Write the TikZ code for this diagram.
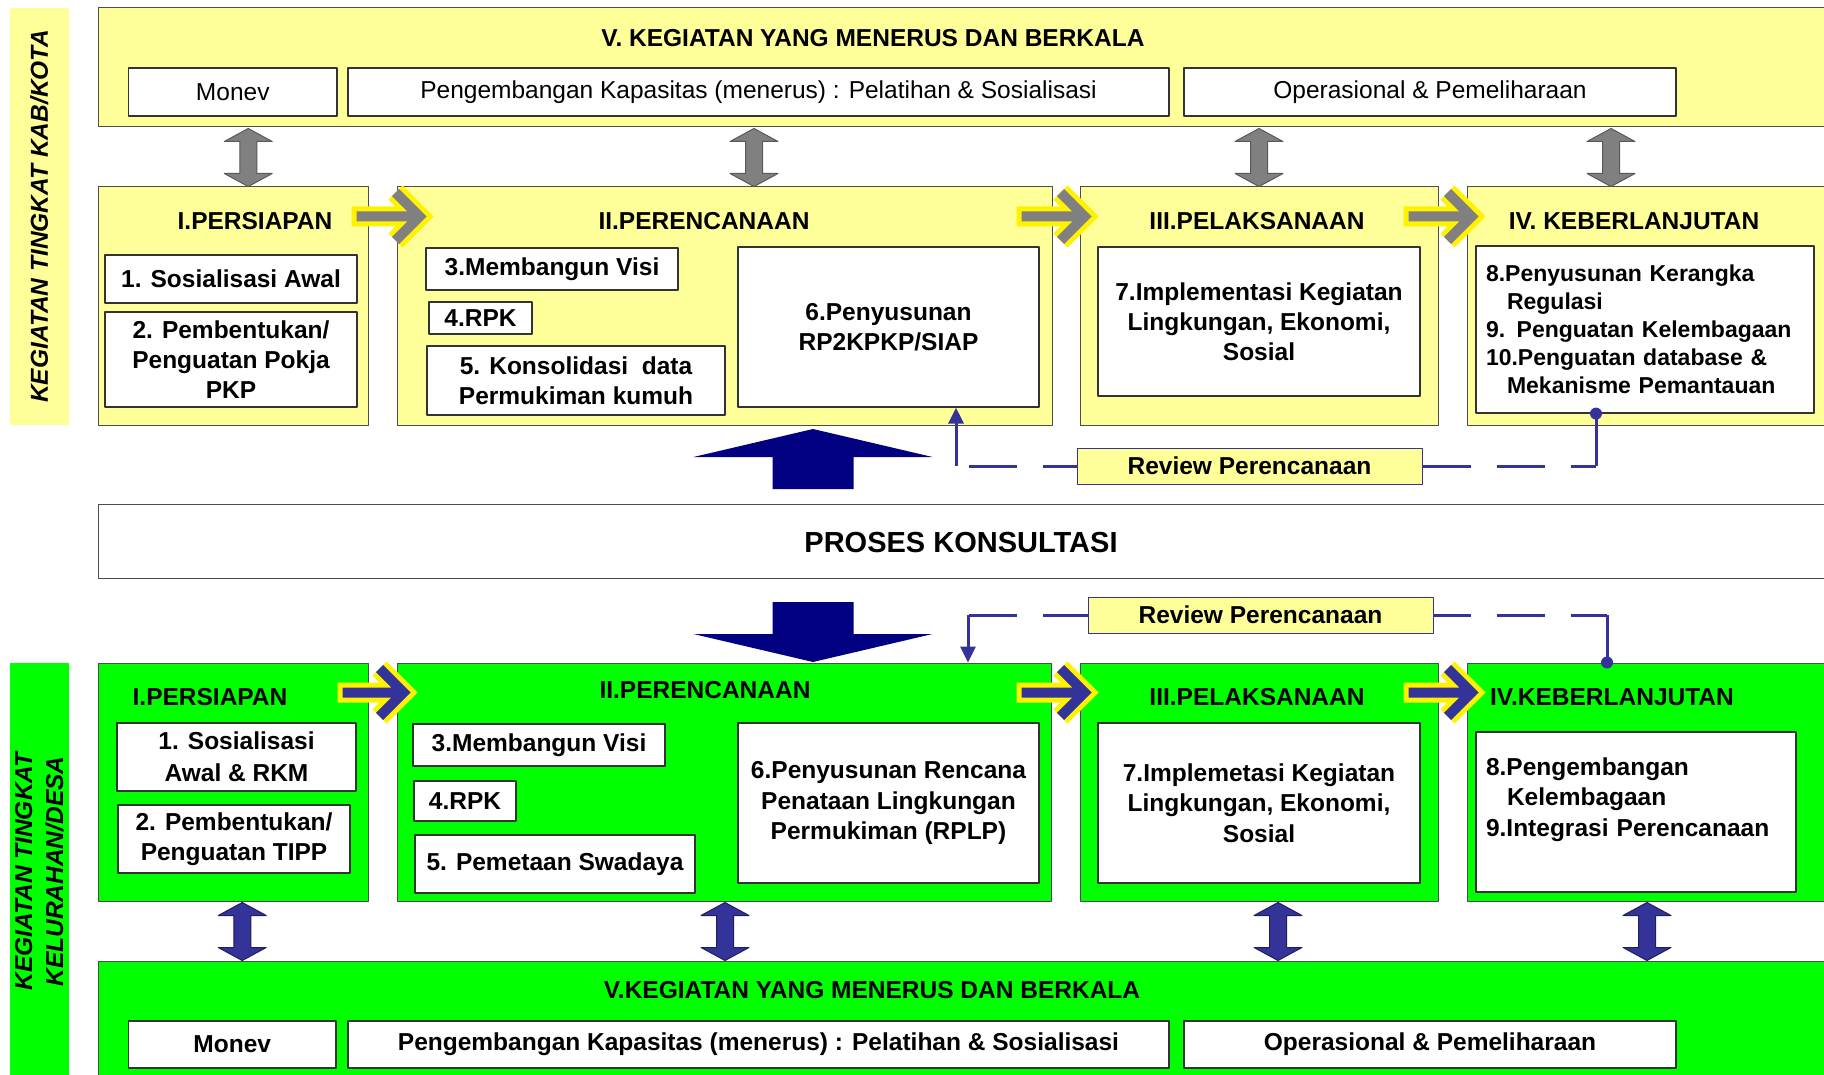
\documentclass[tikz,border=0pt]{standalone}
\usepackage{fontspec}
\setmainfont{Liberation Sans}
\usetikzlibrary{arrows.meta,calc}
\definecolor{panelyellow}{HTML}{FFFF99}
\definecolor{panelgreen}{HTML}{00FF00}
\definecolor{linkblue}{HTML}{333399}
\definecolor{bignavy}{HTML}{000080}
\definecolor{arrowgray}{HTML}{808080}
\newcommand\bodysize{\fontsize{24.5}{29}\selectfont}
\tikzset{panel/.style={draw=black!70,line width=1pt,inner sep=0pt},
  ypanel/.style={panel,fill=panelyellow},
  gpanel/.style={panel,fill=panelgreen},
  cell/.style={draw=black!80,fill=white,line width=1.2pt,inner sep=2pt,align=center,font=\bodysize\bfseries},
  plaincell/.style={cell,font=\bodysize},
  heading/.style={inner sep=0pt,font=\bodysize\bfseries},
  sidebar/.style={rotate=90,inner sep=0pt,align=center,minimum width=417pt,minimum height=59.5pt,font=\bodysize\bfseries\itshape},
  revbox/.style={draw=linkblue,fill=panelyellow,line width=1pt,font=\bodysize\bfseries,minimum width=345pt,minimum height=36pt},
  revdash/.style={linkblue,line width=3pt,dash pattern=on 48pt off 26pt},
  revline/.style={linkblue,line width=3pt},
  grayio/.style={fill=arrowgray,draw=black!65,line width=1pt},
  blueio/.style={fill=linkblue,draw=linkblue!60!black,line width=1pt}}
% double headed block arrow between two points
\newcommand\twoway[3]{\path[#3] let \p1=#1, \p2=#2 in (\x1,\y1) -- (\x1+24pt,\y1-13pt) -- (\x1+8.5pt,\y1-13pt) -- (\x1+8.5pt,\y2+13pt) -- (\x1+24pt,\y2+13pt) -- (\x2,\y2) -- (\x1-24pt,\y2+13pt) -- (\x1-8.5pt,\y2+13pt) -- (\x1-8.5pt,\y1-13pt) -- (\x1-24pt,\y1-13pt) -- cycle;}
% chevron arrow with yellow rim
\newcommand\stagearrow[3]{%
  \draw[yellow,line width=20pt,line join=miter] let \p1=#1, \p2=#2 in (\x1-5pt,\y1) -- (\x2,\y2) (\x2-24pt,\y2+24pt) -- (\x2,\y2) -- (\x2-24pt,\y2-24pt);
  \draw[#3,line width=10pt,line join=miter] let \p1=#1, \p2=#2 in (\x1,\y1) -- (\x2,\y2) (\x2-24pt,\y2+24pt) -- (\x2,\y2) -- (\x2-24pt,\y2-24pt);}
% big block arrow from foot to tip
\newcommand\bigarrow[2]{\fill[bignavy] let \p1=(#1), \p2=(#2), \p3=($(#2)!28pt!(#1)$) in (\x1-40.5pt,\y1) -- (\x1-40.5pt,\y3) -- (\x1-119.5pt,\y3) -- (\x2,\y2) -- (\x1+119.5pt,\y3) -- (\x1+40.5pt,\y3) -- (\x1+40.5pt,\y1) -- cycle;}

\begin{document}
\begin{tikzpicture}[x=1pt,y=-1pt,>=Stealth,line join=round]
\useasboundingbox[fill=white] (0,0) rectangle (1824,1075);
% --- kab/kota level
\node[sidebar,fill=panelyellow] (kside) at (39.25,216.5) {KEGIATAN TINGKAT KAB/KOTA};
\node[ypanel,minimum width=1731.5pt,minimum height=119pt] (kv) at (964.25,67.5) {};
\node[heading] (kvt) at (873,38) {V. KEGIATAN YANG MENERUS DAN BERKALA};
\node[plaincell,minimum width=208.5pt,minimum height=48pt] (kmonev) at (232.75,92) {Monev};
\node[plaincell,minimum width=821pt,minimum height=48pt] (kkap) at (758.5,92) {Pengembangan Kapasitas (menerus) : Pelatihan \& Sosialisasi};
\node[plaincell,minimum width=492pt,minimum height=48pt] (kop) at (1430,92) {Operasional \& Pemeliharaan};
\node[ypanel,minimum width=269.5pt,minimum height=238pt] (kp1) at (233.25,306) {};
\node[ypanel,minimum width=655pt,minimum height=238pt] (kp2) at (724.5,306) {};
\node[ypanel,minimum width=358pt,minimum height=238pt] (kp3) at (1259,306) {};
\node[ypanel,minimum width=363pt,minimum height=238pt] (kp4) at (1648.5,306) {};
\node[heading] (kt1) at (255,221) {I.PERSIAPAN};
\node[heading] (kt2) at (704,221) {II.PERENCANAAN};
\node[heading] (kt3) at (1257,221) {III.PELAKSANAAN};
\node[heading] (kt4) at (1634,221) {IV. KEBERLANJUTAN};
\node[cell,minimum width=252pt,minimum height=48pt] (k1) at (231,279) {1. Sosialisasi Awal};
\node[cell,minimum width=252pt,minimum height=95pt,font=\fontsize{24.5}{30}\selectfont\bfseries] (k2) at (231,359.5) {2. Pembentukan/\\Penguatan Pokja\\PKP};
\node[cell,minimum width=252pt,minimum height=42pt] (k3) at (552,269) {3.Membangun Visi};
\node[cell,minimum width=103pt,minimum height=32pt] (k4) at (480.5,318) {4.RPK};
\node[cell,minimum width=298pt,minimum height=69pt,font=\fontsize{24.5}{30}\selectfont\bfseries] (k5) at (576,380.5) {5. Konsolidasi\ \ data\\Permukiman kumuh};
\node[cell,minimum width=301pt,minimum height=160pt,font=\fontsize{24.5}{30}\selectfont\bfseries] (k6) at (888.5,327) {6.Penyusunan\\RP2KPKP/SIAP};
\node[cell,minimum width=322pt,minimum height=149pt,font=\fontsize{24.5}{30}\selectfont\bfseries] (k7) at (1259,321.5) {7.Implementasi Kegiatan\\Lingkungan, Ekonomi,\\Sosial};
\node[cell,align=left,text width=318pt,inner xsep=10pt,minimum height=167pt,font=\fontsize{23}{28}\selectfont\bfseries] (k8) at (1645,329.5) {8.Penyusunan Kerangka\\\hspace*{21pt}Regulasi\\9. Penguatan Kelembagaan\\10.Penguatan database \&\\\hspace*{21pt}Mekanisme Pemantauan};
\foreach \stage/\dx in {kp1/15,kp2/29.5,kp3/0,kp4/-37.5}
  \twoway{($(kv.south -| \stage.north)+(\dx,1)$)}{($(\stage.north)+(\dx,0)$)}{grayio};
\stagearrow{($(kp1.north east)+(-12,30)$)}{($(kp2.north west)+(23,30)$)}{arrowgray}
\stagearrow{($(kp2.north east)+(-31,30)$)}{($(kp3.north west)+(5,30)$)}{arrowgray}
\stagearrow{($(kp3.north east)+(-30,30)$)}{($(kp4.north west)+(5,30)$)}{arrowgray}
% --- review loop, upper
\node[revbox] (krev) at (1249.5,466) {Review Perencanaan};
\coordinate (kbendl) at (956,466);
\coordinate (kbendr) at (1596,466);
\draw[revdash,dash phase=14pt] (krev.west) -- (kbendl);
\draw[revline,-{Triangle[width=15pt,length=16pt]}] (kbendl) -- (kbendl |- k6.south);
\draw[revdash] (krev.east) -- (kbendr);
\draw[revline] (kbendr) -- (kbendr |- k8.south);
\fill[linkblue] (kbendr |- k8.south) circle (6pt);
% --- consultation
\node[panel,fill=white,minimum width=1731.5pt,minimum height=74pt] (kons) at (964.25,541) {};
\node[heading,font=\fontsize{29}{34}\selectfont\bfseries] (konst) at (961,543) {PROSES KONSULTASI};
\coordinate (upfoot) at (813,489);
\coordinate (uptip) at (813,429);
\coordinate (downfoot) at (813,602);
\coordinate (downtip) at (813,662);
\bigarrow{upfoot}{uptip}
\bigarrow{downfoot}{downtip}
% --- kelurahan/desa level
\node[sidebar,fill=panelgreen,font=\fontsize{24.5}{31}\selectfont\bfseries\itshape] (dside) at (39.25,871.5) {KEGIATAN TINGKAT\\KELURAHAN/DESA};
\node[gpanel,minimum width=269.5pt,minimum height=238pt] (dp1) at (233.25,782) {};
\node[gpanel,minimum width=654pt,minimum height=238pt] (dp2) at (724,782) {};
\node[gpanel,minimum width=358pt,minimum height=238pt] (dp3) at (1259,782) {};
\node[gpanel,minimum width=363pt,minimum height=238pt] (dp4) at (1648.5,782) {};
\node[heading] (dt1) at (210,697) {I.PERSIAPAN};
\node[heading] (dt2) at (705,690) {II.PERENCANAAN};
\node[heading] (dt3) at (1257,697) {III.PELAKSANAAN};
\node[heading] (dt4) at (1612,697) {IV.KEBERLANJUTAN};
\node[cell,minimum width=239pt,minimum height=68pt,font=\fontsize{24.5}{32}\selectfont\bfseries] (d1) at (236.5,757) {1. Sosialisasi\\Awal \& RKM};
\node[cell,minimum width=232pt,minimum height=68pt,font=\fontsize{24.5}{30}\selectfont\bfseries] (d2) at (234,839) {2. Pembentukan/\\Penguatan TIPP};
\node[cell,minimum width=252pt,minimum height=42pt] (d3) at (539,745) {3.Membangun Visi};
\node[cell,minimum width=102pt,minimum height=40pt] (d4) at (465,801) {4.RPK};
\node[cell,minimum width=280pt,minimum height=58pt] (d5) at (555,864) {5. Pemetaan Swadaya};
\node[cell,minimum width=301pt,minimum height=160pt,font=\fontsize{24.5}{30.5}\selectfont\bfseries] (d6) at (888.5,803) {6.Penyusunan Rencana\\Penataan Lingkungan\\Permukiman (RPLP)};
\node[cell,minimum width=322pt,minimum height=160pt,font=\fontsize{24.5}{30.5}\selectfont\bfseries] (d7) at (1259,803) {7.Implemetasi Kegiatan\\Lingkungan, Ekonomi,\\Sosial};
\node[cell,align=left,text width=300pt,inner xsep=10pt,minimum height=160pt,font=\fontsize{24.5}{30.5}\selectfont\bfseries] (d8) at (1636,812) {8.Pengembangan\\\hspace*{21pt}Kelembagaan\\9.Integrasi Perencanaan\\\mbox{}};
\stagearrow{($(dp1.north east)+(-26,30)$)}{($(dp2.north west)+(7,30)$)}{linkblue}
\stagearrow{($(dp2.north east)+(-30,30)$)}{($(dp3.north west)+(5,30)$)}{linkblue}
\stagearrow{($(dp3.north east)+(-30,30)$)}{($(dp4.north west)+(5,30)$)}{linkblue}
% --- review loop, lower
\node[revbox] (drev) at (1260.5,615) {Review Perencanaan};
\coordinate (dbendl) at (968,615);
\coordinate (dbendr) at (1607,615);
\draw[revdash,dash phase=3pt] (drev.west) -- (dbendl);
\draw[revline,-{Triangle[width=15pt,length=16pt]}] (dbendl) -- (dbendl |- dp2.north);
\draw[revdash,dash phase=11pt] (drev.east) -- (dbendr);
\draw[revline] (dbendr) -- (dbendr |- dp4.north);
\fill[linkblue] (dbendr |- dp4.north) circle (6pt);
% --- continuous activities, lower
\node[gpanel,minimum width=1731.5pt,minimum height=119pt] (dv) at (964.25,1020.5) {};
\node[heading] (dvt) at (872,990) {V.KEGIATAN YANG MENERUS DAN BERKALA};
\node[cell,minimum width=207.5pt,minimum height=47pt] (dmonev) at (232.25,1044.5) {Monev};
\node[cell,minimum width=821pt,minimum height=47pt] (dkap) at (758.5,1044.5) {Pengembangan Kapasitas (menerus) : Pelatihan \& Sosialisasi};
\node[cell,minimum width=492pt,minimum height=47pt] (dop) at (1430,1044.5) {Operasional \& Pemeliharaan};
\foreach \stage/\dx in {dp1/9,dp2/1,dp3/19,dp4/-1.5}
  \twoway{($(\stage.south)+(\dx,1)$)}{($(dv.north -| \stage.south)+(\dx,0)$)}{blueio};
\end{tikzpicture}
\end{document}
